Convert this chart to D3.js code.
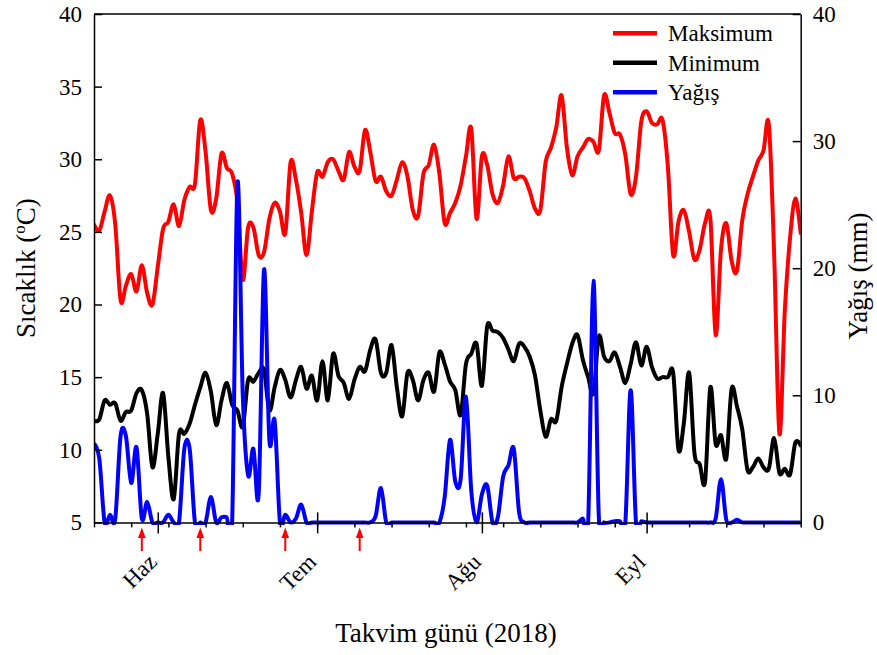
<!DOCTYPE html>
<html>
<head>
<meta charset="utf-8">
<script src="https://cdn.jsdelivr.net/npm/d3@7"></script>
<style>
  html, body { margin: 0; padding: 0; background: #fff; }
  svg { display: block; font-family: "Liberation Serif", "Times New Roman", serif; }
</style>
</head>
<body>
<svg id="chart" width="877" height="655"></svg>
<script>
// Daily weather record, 20 May – 30 September 2018
const startDate = new Date(Date.UTC(2018, 4, 20));
const endDate = new Date(Date.UTC(2018, 8, 30));

// Daily maximum temperature (°C)
const maxTemp = [
  25.5, 25.1, 26.4, 27.5, 25.5, 20.3, 21.3, 22.1, 20.9, 22.7,
  20.8, 20.0, 22.6, 25.2, 25.7, 26.9, 25.4, 27.2, 28.1, 28.3,
  32.7, 30.5, 26.5, 27.3, 30.4, 29.4, 29.0, 27.0, 21.7, 25.3,
  25.3, 23.4, 23.6, 25.9, 27.0, 26.4, 24.9, 29.8, 28.6, 26.3,
  23.4, 26.4, 29.1, 28.8, 29.8, 30.0, 29.2, 28.6, 30.5, 29.5,
  29.2, 32.0, 30.5, 28.5, 28.8, 27.8, 27.5, 28.6, 29.8, 28.8,
  26.5, 26.1, 29.0, 29.6, 31.0, 29.0, 25.6, 26.3, 27.0, 28.2,
  30.2, 32.1, 25.9, 30.2, 29.6, 27.6, 27.0, 28.2, 30.2, 28.7,
  28.8, 28.7, 27.8, 26.6, 26.5, 29.8, 30.8, 32.2, 34.4, 30.8,
  28.9, 30.2, 30.8, 31.4, 31.2, 30.6, 34.4, 33.2, 31.8, 31.7,
  30.3, 27.6, 28.8, 32.6, 33.3, 32.5, 32.4, 32.7, 29.5, 23.4,
  25.7, 26.5, 25.0, 23.1, 23.8, 25.6, 25.9, 17.9, 23.8, 25.6,
  23.0, 22.3, 25.8, 27.6, 28.8, 29.9, 30.6, 32.4, 23.5, 11.1,
  19.5, 24.6, 27.3, 24.9
];

// Daily minimum temperature (°C)
const minTemp = [
  12.0, 12.1, 13.4, 13.1, 13.2, 12.0, 12.6, 12.7, 13.9, 14.1,
  12.5, 8.8, 11.1, 13.9, 9.5, 6.6, 11.1, 11.1, 11.8, 13.1,
  14.3, 15.3, 14.0, 11.7, 13.4, 14.6, 13.1, 12.7, 11.6, 14.8,
  14.7, 15.3, 15.5, 12.7, 14.3, 15.5, 14.8, 13.6, 14.8, 15.7,
  14.2, 15.1, 13.4, 16.1, 13.4, 16.6, 15.1, 14.6, 13.5, 14.8,
  15.7, 15.4, 16.9, 17.6, 15.3, 15.3, 17.2, 14.3, 12.3, 15.3,
  14.8, 13.4, 14.8, 15.3, 14.0, 16.7, 15.9, 14.7, 14.1, 12.4,
  15.9, 16.6, 17.3, 14.4, 18.5, 18.2, 18.1, 17.7, 16.9, 16.1,
  17.3, 17.1, 16.4, 15.1, 12.7, 10.9, 12.1, 12.0, 14.3, 15.9,
  17.3, 17.9, 16.2, 15.0, 13.9, 17.8, 16.4, 16.1, 16.7, 15.7,
  14.6, 15.9, 17.4, 15.8, 17.1, 15.7, 14.9, 15.0, 15.0, 15.3,
  10.0, 11.8, 15.3, 9.8, 9.0, 7.8, 14.3, 10.4, 11.0, 9.4,
  14.2, 13.0, 11.4, 8.6, 8.8, 9.4, 8.8, 8.7, 10.8, 8.4,
  8.7, 8.3, 10.5, 10.3
];

// Daily rainfall (mm)
const rainfall = [
  6.2, 5.0, 0, 0.6, 0.3, 6.8, 6.8, 3.1, 5.9, 0.3,
  1.6, 0, 0, 0, 0.6, 0, 0, 5.8, 5.8, 0,
  0, 0, 2.0, 0, 0.4, 0.4, 0, 26.7, 10.0, 3.7,
  5.8, 2.3, 19.9, 6.5, 8.0, 0, 0.6, 0, 0.3, 1.4,
  0, 0, 0, 0, 0, 0, 0, 0, 0, 0,
  0, 0, 0, 0.5, 2.7, 0, 0, 0, 0, 0,
  0, 0, 0, 0, 0, 0, 2.0, 6.5, 3.2, 3.4,
  9.9, 2.5, 0, 2.2, 2.9, 0, 0.4, 3.6, 4.5, 5.8,
  0.8, 0, 0, 0, 0, 0, 0, 0, 0, 0,
  0, 0, 0.3, 0, 19.0, 0.5, 0, 0, 0.1, 0.1,
  0, 10.4, 0, 0.1, 0, 0, 0, 0, 0, 0,
  0, 0, 0, 0, 0, 0, 0, 0.3, 3.4, 0.2,
  0, 0.2, 0, 0, 0, 0, 0, 0, 0, 0,
  0, 0, 0, 0
];

// Month labels on the date axis
const monthStarts = [
  new Date(Date.UTC(2018, 5, 1)),
  new Date(Date.UTC(2018, 6, 1)),
  new Date(Date.UTC(2018, 7, 1)),
  new Date(Date.UTC(2018, 8, 1))
];
const monthLabels = ["Haz", "Tem", "Ağu", "Eyl"];

// Dates flagged with arrows under the axis
const markerDates = [
  new Date(Date.UTC(2018, 4, 29)),
  new Date(Date.UTC(2018, 5, 9)),
  new Date(Date.UTC(2018, 5, 25)),
  new Date(Date.UTC(2018, 6, 9))
];

const tempTicks = [5, 10, 15, 20, 25, 30, 35, 40];
const rainTicks = [0, 10, 20, 30, 40];
const seriesNames = ["Maksimum", "Minimum", "Yağış"];
const seriesColors = ["#ff0000", "#000000", "#0000ff"];

// ---- layout ----
const plot = { left: 94, right: 800.7, top: 14, bottom: 522.4 };
const svg = d3.select("#chart");

const days = d3.utcDay.range(startDate, d3.utcDay.offset(endDate, 1));

const x = d3.scaleUtc().domain([startDate, endDate]).range([plot.left, plot.right]);
const yTemp = d3.scaleLinear().domain([5, 40]).range([plot.bottom, plot.top]);
const yRain = d3.scaleLinear().domain([0, 40]).range([plot.bottom, plot.top]);

const tickFont = 23, titleFont = 27, legendFont = 23;

// clip for the curves (a little slack so the zero line keeps its width)
svg.append("defs").append("clipPath").attr("id", "plot-clip")
  .append("rect")
  .attr("x", plot.left).attr("y", plot.top)
  .attr("width", plot.right - plot.left)
  .attr("height", plot.bottom - plot.top + 2.5);

// ---- series (smooth spline through the daily values) ----
const curve = d3.curveCatmullRom.alpha(0);
const tempLine = d3.line().x((d, i) => x(days[i])).y(d => yTemp(d)).curve(curve);
const rainLine = d3.line().x((d, i) => x(days[i])).y(d => yRain(d)).curve(curve);

const lines = svg.append("g").attr("clip-path", "url(#plot-clip)")
  .attr("fill", "none").attr("stroke-width", 4)
  .attr("stroke-linejoin", "round").attr("stroke-linecap", "round");

lines.append("path").attr("d", tempLine(maxTemp)).attr("stroke", seriesColors[0]);
lines.append("path").attr("d", tempLine(minTemp)).attr("stroke", seriesColors[1]);
lines.append("path").attr("d", rainLine(rainfall)).attr("stroke", seriesColors[2]);

// ---- axes ----
function styleAxis(g) {
  g.selectAll(".domain").attr("stroke", "#000").attr("stroke-width", 1.5);
  g.selectAll(".tick line").attr("stroke", "#000").attr("stroke-width", 1.5);
  g.selectAll("text").attr("fill", "#000")
    .style("font-family", '"Liberation Serif", "Times New Roman", serif')
    .style("font-size", tickFont + "px");
}

// left: temperature
svg.append("g")
  .attr("transform", `translate(${plot.left},0)`)
  .call(d3.axisLeft(yTemp).tickValues(tempTicks).tickSizeInner(-8).tickSizeOuter(0).tickPadding(12))
  .call(styleAxis);

// right: rainfall
svg.append("g")
  .attr("transform", `translate(${plot.right},0)`)
  .call(d3.axisRight(yRain).tickValues(rainTicks).tickSizeInner(-8).tickSizeOuter(0).tickPadding(12))
  .call(styleAxis);

// top frame line
svg.append("line")
  .attr("x1", plot.left).attr("x2", plot.right)
  .attr("y1", plot.top).attr("y2", plot.top)
  .attr("stroke", "#000").attr("stroke-width", 1.5);

// bottom: weekly minor ticks
const weekly = days.filter((d, i) => i % 7 === 0);
svg.append("g")
  .attr("transform", `translate(0,${plot.bottom})`)
  .call(d3.axisBottom(x).tickValues(weekly).tickSize(5).tickSizeOuter(0).tickFormat(""))
  .call(styleAxis);

// bottom: month ticks crossing the axis, with slanted labels
const monthAxis = svg.append("g")
  .attr("transform", `translate(0,${plot.bottom})`)
  .call(d3.axisBottom(x).tickValues(monthStarts).tickSize(11).tickSizeOuter(0)
    .tickFormat((d, i) => monthLabels[i]))
  .call(styleAxis);
monthAxis.select(".domain").remove();
monthAxis.selectAll(".tick line").attr("y1", -10);
monthAxis.selectAll(".tick text")
  .attr("x", 0).attr("y", 0).attr("dy", 0)
  .attr("transform", "translate(0,41) rotate(-45)")
  .style("text-anchor", "end");

// arrows under the axis
const arrows = svg.append("g").attr("fill", "#ff0000").attr("stroke", "#ff0000");
markerDates.forEach(d => {
  const ax = x(d);
  arrows.append("line")
    .attr("x1", ax).attr("x2", ax).attr("y1", 551).attr("y2", 536)
    .attr("stroke-width", 2);
  arrows.append("path")
    .attr("stroke", "none")
    .attr("d", `M${ax - 3.8},${538} L${ax},${527.5} L${ax + 3.8},${538} Z`);
});

// ---- titles ----
const leftTitle = svg.append("text")
  .attr("transform", `translate(35,${(plot.top + plot.bottom) / 2}) rotate(-90)`)
  .attr("text-anchor", "middle")
  .style("font-size", titleFont + "px");
leftTitle.append("tspan").text("Sıcaklık (");
leftTitle.append("tspan").text("o").style("font-size", "17px").attr("dy", -10);
leftTitle.append("tspan").text("C)").attr("dy", 10);

svg.append("text")
  .attr("transform", `translate(867,276) rotate(-90)`)
  .attr("text-anchor", "middle")
  .style("font-size", titleFont + "px")
  .text("Yağış (mm)");

svg.append("text")
  .attr("x", 446).attr("y", 642)
  .attr("text-anchor", "middle")
  .style("font-size", titleFont + "px")
  .text("Takvim günü (2018)");

// ---- legend ----
const legend = svg.append("g");
seriesNames.forEach((name, i) => {
  const ly = 33.3 + i * 29.5;
  legend.append("line")
    .attr("x1", 613).attr("x2", 657).attr("y1", ly).attr("y2", ly)
    .attr("stroke", seriesColors[i]).attr("stroke-width", 4.5);
  legend.append("text")
    .attr("x", 668).attr("y", ly + 8)
    .style("font-size", legendFont + "px")
    .text(name);
});
</script>
</body>
</html>
